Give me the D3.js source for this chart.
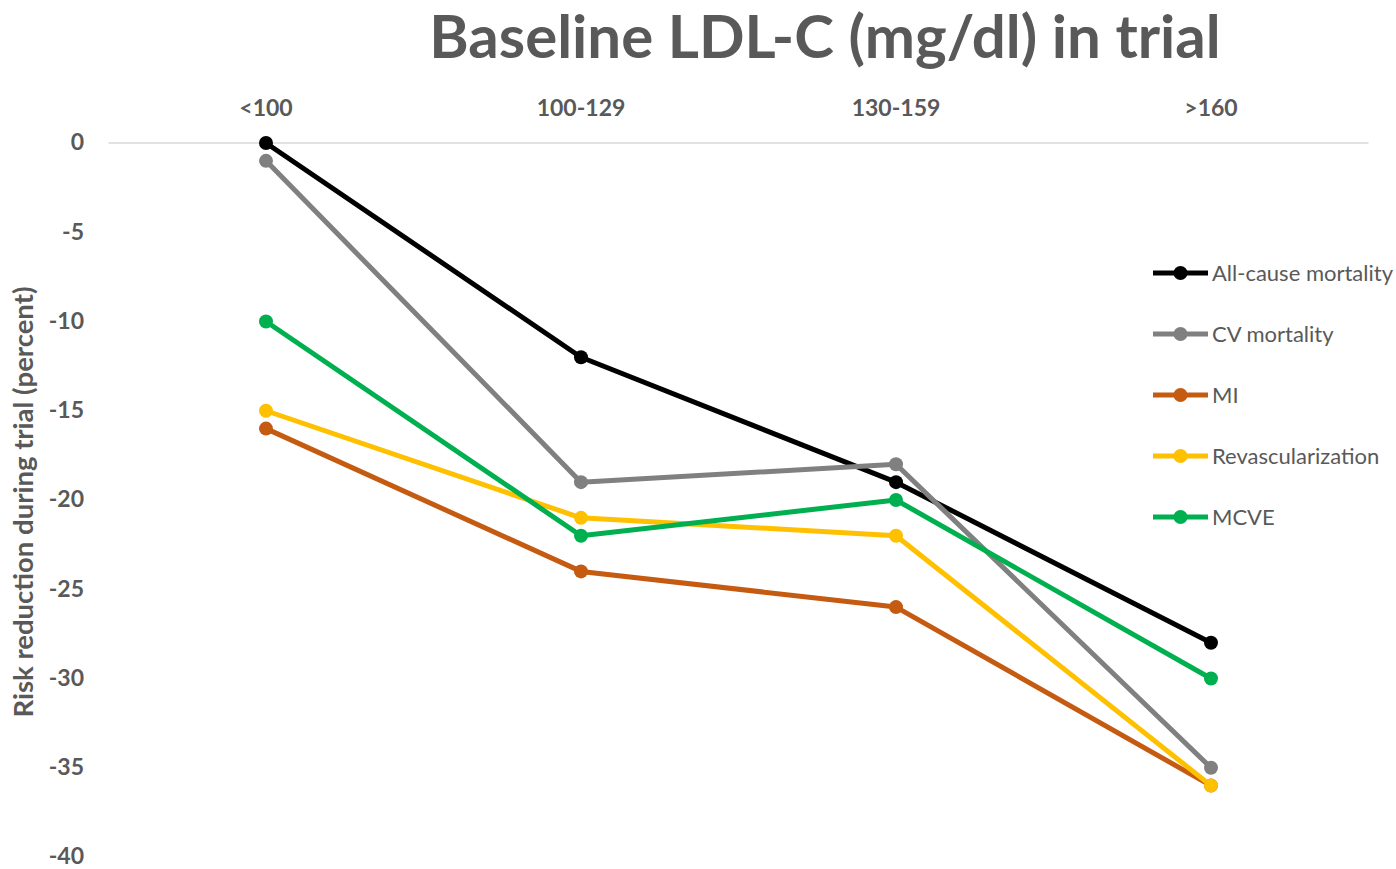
<!DOCTYPE html>
<html><head><meta charset="utf-8">
<script src="https://cdn.jsdelivr.net/npm/d3@7"></script>
<style>body{margin:0;background:#fff;} svg{display:block;}</style>
</head><body>
<svg id="chart" width="1396" height="869"></svg>
<script>
const categories = ["<100", "100-129", "130-159", ">160"];
const seriesNames = ["All-cause mortality", "CV mortality", "MI", "Revascularization", "MCVE"];
const allCause = [0, -12, -19, -28];
const cvMortality = [-1, -19, -18, -35];
const mi = [-16, -24, -26, -36];
const revasc = [-15, -21, -22, -36];
const mcve = [-10, -22, -20, -30];
const seriesColors = ["#000000", "#808080", "#c55a11", "#ffc000", "#00b050"];
const yTicks = [0, -5, -10, -15, -20, -25, -30, -35, -40];

const seriesValues = [allCause, cvMortality, mi, revasc, mcve];
const series = seriesNames.map((n, i) => ({name: n, color: seriesColors[i], values: seriesValues[i]}));

const svg = d3.select("#chart");
const font = "Lato, 'Open Sans', sans-serif";
const textColor = "#595959";

const x = d3.scaleBand().domain(categories).range([108.5, 1368.5]);
const y = d3.scaleLinear().domain([-40, 0]).range([857, 143]);

// title
svg.append("text").attr("x", 825).attr("y", 58).attr("text-anchor", "middle")
  .attr("font-family", font).attr("font-weight", "bold").attr("font-size", 60)
  .attr("fill", textColor).text("Baseline LDL-C (mg/dl) in trial");

// zero line
svg.append("line").attr("x1", 108.5).attr("x2", 1368.5).attr("y1", y(0)).attr("y2", y(0))
  .attr("stroke", "#d9d9d9").attr("stroke-width", 1.5);

// category axis (top)
const xAxis = d3.axisTop(x).tickSize(0).tickPadding(0);
const gx = svg.append("g").attr("transform", "translate(0,116)").call(xAxis);
gx.select(".domain").remove();
gx.selectAll("text").attr("font-family", font).attr("font-weight", "bold")
  .attr("font-size", 23).attr("fill", textColor);

// y axis
const yAxis = d3.axisLeft(y).tickValues(yTicks).tickSize(0).tickPadding(0)
  .tickFormat(d => String(d));
const gy = svg.append("g").attr("transform", "translate(84,0)").call(yAxis);
gy.select(".domain").remove();
gy.selectAll("text").attr("font-family", font).attr("font-weight", "bold")
  .attr("font-size", 23).attr("fill", textColor).attr("dy", "0.3em");

// y axis title
svg.append("text").attr("transform", "translate(33,502) rotate(-90)").attr("text-anchor", "middle")
  .attr("font-family", font).attr("font-weight", "bold").attr("font-size", 27.5)
  .attr("fill", textColor).text("Risk reduction during trial (percent)");

const line = d3.line().x((d, i) => x(categories[i]) + x.bandwidth() / 2).y(d => y(d));

const g = svg.append("g");
series.forEach(s => {
  g.append("path").datum(s.values).attr("d", line).attr("fill", "none")
    .attr("stroke", s.color).attr("stroke-width", 5).attr("stroke-linejoin", "round");
  g.selectAll(null).data(s.values).enter().append("circle")
    .attr("cx", (d, i) => x(categories[i]) + x.bandwidth() / 2)
    .attr("cy", d => y(d)).attr("r", 7).attr("fill", s.color);
});

// legend
const leg = svg.append("g");
series.forEach((s, i) => {
  const ly = 273 + i * 61;
  leg.append("line").attr("x1", 1153).attr("x2", 1208).attr("y1", ly).attr("y2", ly)
    .attr("stroke", s.color).attr("stroke-width", 5);
  leg.append("circle").attr("cx", 1180.5).attr("cy", ly).attr("r", 7).attr("fill", s.color);
  leg.append("text").attr("x", 1212).attr("y", ly).attr("dy", "0.35em")
    .attr("font-family", font).attr("font-size", 22).attr("fill", textColor).text(s.name);
});
</script>
</body></html>
